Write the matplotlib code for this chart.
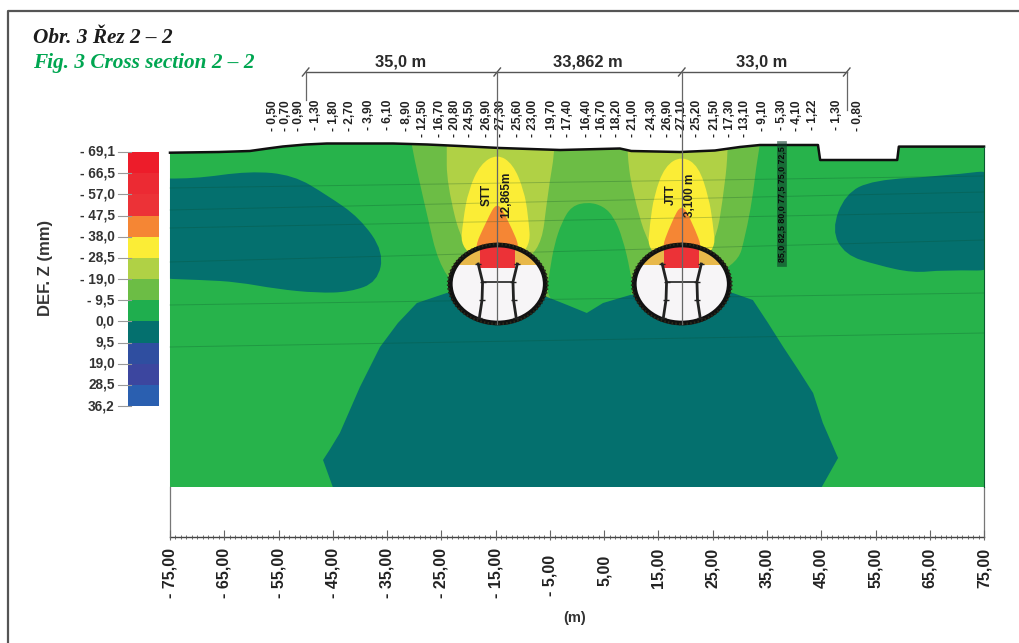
import matplotlib
matplotlib.use("Agg")
import matplotlib.pyplot as plt
from matplotlib.patches import Ellipse, PathPatch, Polygon, Rectangle
from matplotlib.path import Path

# x values are metres along the section, y values are depth rows of the drawing
title_cz = "Obr. 3 Řez 2 – 2"
title_en = "Fig. 3 Cross section 2 – 2"

legend_levels = ["- 69,1", "- 66,5", "- 57,0", "- 47,5", "- 38,0", "- 28,5", "- 19,0", "- 9,5",
                 "0,0", "9,5", "19,0", "28,5", "36,2"]
legend_colors = ["#ed1c2a", "#ec2a33", "#ec3237", "#f58634", "#fbed36", "#b0d145", "#6cbd45",
                 "#1fae4e", "#04706e", "#2f4ea0", "#3c469f", "#2a5fb0"]

axis_ticks = [-75, -65, -55, -45, -35, -25, -15, -5, 5, 15, 25, 35, 45, 55, 65, 75]

settle_x = [-56.0, -53.6, -51.2, -48.1, -44.8, -41.8, -38.3, -34.8, -31.3, -28.3, -25.2, -22.4,
            -19.7, -16.6, -14.0, -10.8, -8.1, -4.6, -1.6, 1.8, 4.6, 7.3, 10.3, 13.8, 16.8, 19.3,
            22.1, 25.4, 28.1, 30.9, 34.2, 37.7, 40.5, 43.4, 47.9, 51.8]
settle_vals = ["- 0,50", "- 0,70", "- 0,90", "- 1,30", "- 1,80", "- 2,70", "- 3,90", "- 6,10",
               "- 8,90", "- 12,50", "- 16,70", "- 20,80", "- 24,50", "- 26,90", "- 27,30",
               "- 25,60", "- 23,00", "- 19,70", "- 17,40", "- 16,40", "- 16,70", "- 18,20",
               "- 21,00", "- 24,30", "- 26,90", "- 27,10", "- 25,20", "- 21,50", "- 17,30",
               "- 13,10", "- 9,10", "- 5,30", "- 4,10", "- 1,22", "- 1,30", "- 0,80"]

dim_x = [-50.0, -14.7, 19.3, 49.7]
dim_labels = ["35,0 m", "33,862 m", "33,0 m"]
dim_label_x = [-32.6, 2.0, 34.0]

surface_x = [-75, -66, -60.3, -57, -54.2, -50, -46.1, -33.9, -27.6, -21.6, -14.2, -3.1, 7.9, 10,
             19.0, 25.4, 30, 33.7, 44.4, 44.8, 59.0, 59.3, 75]
surface_y = [152.7, 152, 151, 148.5, 146.5, 144.5, 143.5, 143.5, 144.5, 146, 148, 150, 148.5, 151,
             152, 150.5, 147, 145, 145, 160, 160, 146.6, 146.6]

band_x = [-30.4, -28.4, -24.7, -14.7, 28.7, 31.9, 33.4, 34.5, -31]
band_y = [148, 197, 283, 310, 283, 217, 150, 125, 125]
lime1_x = [-24.0, -24.0, -21.0, -14.7, -6.8, -5.3, -4.1, -4.0, -24]
lime1_y = [147, 183, 250, 265, 257, 190, 152, 120, 120]
lime2_x = [9.2, 10.1, 13.5, 19.0, 25.4, 27.3, 27.8, 27.8, 9.2]
lime2_y = [151, 190, 253, 265, 250, 183, 150, 120, 120]
yellow1_x = [-14.7, -17.8, -20.0, -21.0, -21.5, -14.7, -8.5, -9.0, -9.8, -11.8]
yellow1_y = [154, 164, 190, 220, 250, 268, 250, 215, 190, 164]
yellow2_x = [19.3, 16.2, 14.2, 13.4, 13.0, 19.3, 25.6, 25.0, 24.3, 22.4]
yellow2_y = [156, 166, 195, 225, 252, 268, 252, 222, 198, 166]
orange1_x = [-14.7, -16.6, -19.4, -14.7, -10.0, -12.7]
orange1_y = [201, 220, 254, 268, 254, 220]
orange2_x = [19.3, 17.4, 15.2, 19.3, 23.5, 21.2]
orange2_y = [203, 222, 254, 268, 254, 222]
dome_x = [2.0, -1.0, -2.8, -4.2, -5.0, -5.8, 1.8, 10.6, 9.8, 8.4, 6.8, 4.8]
dome_y = [202, 206, 222, 245, 270, 300, 325, 300, 270, 238, 217, 206]
mound_x = [-45.0, -46.8, -45.6, -43.7, -40.0, -36.3, -33.0, -29.5, -24.0, -14.7, -5.5, -1.8, 1.8,
           4.8, 9.8, 19.3, 28.7, 32.4, 35.2, 38.0, 40.8, 43.5, 45.3, 48.1, 45.1]
mound_y = [487, 460, 450, 433, 387, 347, 323, 303, 293, 290, 297, 305, 313, 303, 295, 290, 293,
           300, 323, 347, 370, 393, 423, 458, 487]
blob_l_x = [-80, -70.8, -60.3, -52.3, -46.1, -40.0, -35.6, -36.8, -41.8, -47.9, -55.3, -62.6,
            -68.9, -80]
blob_l_y = [178, 179, 171, 175, 195, 218, 252, 282, 292, 293, 289, 282, 280, 278]
blob_r_x = [46.9, 49.4, 54.5, 67.4, 80, 80, 67.4, 61.9, 55.3, 49.4]
blob_r_y = [230, 194, 180, 176, 168, 271, 270, 273, 265, 255]

strata_left = [188, 210, 228, 262, 305, 347]
strata_right = [176, 192, 212, 240, 293, 333]

tunnel_x = [-14.6, 19.3]
tunnel_labels = [("STT", "12,865m"), ("JTT", "3,100 m")]

plt.rcParams["font.family"] = ["Liberation Sans", "DejaVu Sans"]
fig = plt.figure(figsize=(10.19, 6.43), dpi=100)
ax = fig.add_axes([0, 0, 1, 1])
ax.set_xlim(-106.32, 81.44)
ax.set_ylim(643, 0)
ax.axis("off")

ink = "#1c1c1c"

# frame, only top and left
ax.plot([-104.8, -104.8, 81.44], [643, 11, 11], color="#555555", lw=1.6)

ax.text(-100.2, 38, title_cz, family="Liberation Serif", style="italic", weight="bold",
        fontsize=15.3, color=ink, va="center")
ax.text(-100.2, 63, title_en, family="Liberation Serif", style="italic", weight="bold",
        fontsize=15.3, color="#00a651", va="center")

# legend
row0, step = 152, 21.17
for i, lab in enumerate(legend_levels):
    ax.plot([-84.5, -82.2], [row0 + i * step] * 2, color="#999999", lw=0.8)
    ax.text(-85.2, row0 + i * step, lab, ha="right", va="center", fontsize=9.8, weight="bold",
            color="#333333")
for i, col in enumerate(legend_colors):
    ax.add_patch(Rectangle((-82.7, row0 + i * step), 5.7, step, color=col, lw=0))
ax.text(-97.9, 268, "DEF. Z (mm)", rotation=90, ha="center", va="center", fontsize=12,
        weight="bold", color="#333333")

# section
section = Polygon(list(zip(surface_x, surface_y)) + [(75, 487), (-75, 487)], closed=True,
                  facecolor="#27b34b", edgecolor="none")
ax.add_patch(section)


def zone(xs, ys, color):
    # rounded outline, the listed points act as bezier control points
    pts = list(zip(xs, ys))
    n = len(pts)
    mid = [((pts[i][0] + pts[(i + 1) % n][0]) / 2, (pts[i][1] + pts[(i + 1) % n][1]) / 2)
           for i in range(n)]
    verts = [mid[-1]]
    codes = [Path.MOVETO]
    for i in range(n):
        verts += [pts[i], mid[i]]
        codes += [Path.CURVE3, Path.CURVE3]
    p = PathPatch(Path(verts, codes), facecolor=color, edgecolor="none", zorder=2)
    ax.add_patch(p)
    p.set_clip_path(section)


zone(band_x, band_y, "#6cbd45")
zone(lime1_x, lime1_y, "#b0d145")
zone(lime2_x, lime2_y, "#b0d145")
zone(yellow1_x, yellow1_y, "#fbed36")
zone(yellow2_x, yellow2_y, "#fbed36")
zone(orange1_x, orange1_y, "#f58634")
zone(orange2_x, orange2_y, "#f58634")
zone(dome_x, dome_y, "#27b34b")
zone(blob_l_x, blob_l_y, "#04706e")
zone(blob_r_x, blob_r_y, "#04706e")
# the mound keeps its sharp tips at the base
ax.add_patch(Polygon(list(zip(mound_x, mound_y)), closed=True, facecolor="#04706e",
                     edgecolor="none", zorder=2))

for yl, yr in zip(strata_left, strata_right):
    ax.plot([-75, 75], [yl, yr], color="#0a4a2a", lw=0.7, alpha=0.25, zorder=3)

# ground line and section edges
ax.plot(surface_x, surface_y, color="#101010", lw=1.8, zorder=6)
ax.plot([75, 75], [146.6, 487], color="#0a5a30", lw=0.8, zorder=6)

# tunnels
for cx, (name, depth) in zip(tunnel_x, tunnel_labels):
    body = Ellipse((cx, 284), 17.5, 78, facecolor="#f7f5f7", edgecolor="none", zorder=4)
    ax.add_patch(body)
    top = Rectangle((cx - 9, 240), 18, 25, facecolor="#e8b84a", edgecolor="none", zorder=4)
    ax.add_patch(top)
    top.set_clip_path(body)
    cap = Rectangle((cx - 3.2, 240), 6.4, 28, facecolor="#ec3237", edgecolor="none", zorder=4)
    ax.add_patch(cap)
    cap.set_clip_path(body)
    ax.add_patch(Ellipse((cx, 284), 17.5, 78, facecolor="none", edgecolor="#111111", lw=3.4,
                         zorder=5))
    ax.add_patch(Ellipse((cx, 284), 18.3, 80, facecolor="none", edgecolor="#2a2a1a", lw=1.8,
                         ls=(0, (0.6, 0.9)), zorder=5))
    for side in (-1, 1):
        ax.plot([cx + side * 3.6, cx + side * 2.8, cx + side * 2.9, cx + side * 3.4],
                [264, 282, 300, 318], color="#222222", lw=2.0, marker="_", ms=4, mew=1, zorder=5)
    ax.plot([cx - 2.8, cx + 2.8], [282, 282], color="#222222", lw=1.2, zorder=5)
    ax.text(cx - 2.1, 195, name, rotation=90, ha="center", va="center", fontsize=8.5,
            weight="bold", color=ink, zorder=7)
    ax.text(cx + 1.5, 195, depth, rotation=90, ha="center", va="center", fontsize=8.5,
            weight="bold", color=ink, zorder=7)

# inclinometer column, values too dense to read
ax.plot([37.8, 37.8], [146, 262], color="#0d3d28", lw=7, alpha=0.6, zorder=6)
ax.text(37.8, 204, "85,0 82,5 80,0 77,5 75,0 72,5", rotation=90, ha="center", va="center",
        fontsize=6.4, weight="bold", color="#0a0a0a", zorder=7)

# settlement values above ground
for x, val in zip(settle_x, settle_vals):
    ax.text(x, 100, val, rotation=90, ha="center", va="top", fontsize=8.6, weight="bold",
            color="#222222")

# dimension line
ax.plot([dim_x[0], dim_x[-1]], [72, 72], color="#555555", lw=1)
for x, end in zip(dim_x, [100, 324, 324, 110]):
    ax.plot([x, x], [72, end], color="#666666", lw=0.9, zorder=7)
    ax.plot([x - 0.6, x + 0.6], [76, 68], color="#555555", lw=1)
for x, lab in zip(dim_label_x, dim_labels):
    ax.text(x, 62, lab, ha="center", va="center", fontsize=11.8, weight="bold", color="#2a2a2a")

# metre axis
ax.plot([-75, -75], [487, 537], color="#777777", lw=0.9)
ax.plot([75, 75], [487, 537], color="#777777", lw=0.9)
ax.plot([-75, 75], [537, 537], color="#444444", lw=1)
ax.vlines(range(-75, 76), 535, 539, color="#555555", lw=0.6)
ax.vlines(axis_ticks, 530, 540, color="#666666", lw=0.8)
for t in axis_ticks:
    if t < 0:
        lab = "- %d,00" % abs(t)
    else:
        lab = "%d,00" % t
    ax.text(t, 555 if abs(t) == 5 else 548, lab, rotation=90, ha="center", va="top", fontsize=11.5,
            weight="bold", color="#222222")
ax.text(-0.4, 618, "(m)", ha="center", va="center", fontsize=10.5, weight="bold", color="#333333")

fig.savefig("out.png", dpi=100)
